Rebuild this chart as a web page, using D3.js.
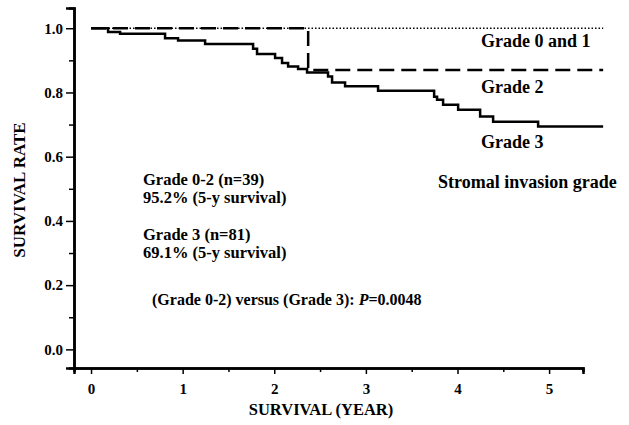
<!DOCTYPE html>
<html>
<head>
<meta charset="utf-8">
<script src="https://cdn.jsdelivr.net/npm/d3@7"></script>
<style>
  body { margin: 0; background: #fff; }
  svg text { font-family: "Liberation Serif", "Times New Roman", serif; font-weight: bold; fill: #000; }
</style>
</head>
<body>
<svg id="chart" width="629" height="425"></svg>
<script>
// Kaplan-Meier curves (time in years, survival rate)
var grade01Times = [0, 5.59];
var grade01Surv  = [1.0, 1.0];

var grade2Times = [0, 2.37, 5.59];
var grade2Surv  = [1.0, 0.87, 0.87];

var grade3Times = [0, 0.186, 0.317, 0.808, 0.95, 1.245, 1.769, 1.812, 2.009, 2.085, 2.151, 2.26, 2.358,
                   2.587, 2.631, 2.773, 3.133, 3.745, 3.777, 3.843, 4.007, 4.247, 4.389, 4.88, 5.59];
var grade3Surv  = [1.0, 0.988, 0.983, 0.969, 0.962, 0.951, 0.936, 0.92, 0.907, 0.892, 0.881, 0.873, 0.862,
                   0.85, 0.831, 0.819, 0.805, 0.787, 0.777, 0.762, 0.746, 0.725, 0.709, 0.694, 0.694];

var xTicks = [0, 1, 2, 3, 4, 5];
var xMinor = [0.5, 1.5, 2.5, 3.5, 4.5];
var yTicks = [0, 0.2, 0.4, 0.6, 0.8, 1.0];
var yMinor = [0.1, 0.3, 0.5, 0.7, 0.9];

var svg = d3.select("#chart");

var x = d3.scaleLinear().domain([-0.186, 5.37]).range([74, 583]);
var y = d3.scaleLinear().domain([-0.058, 1.063]).range([368, 8]);

function pairs(ts, ss) {
    return ts.map(function(t, i){ return [t, ss[i]]; });
}

// axes
var yAxis = d3.axisLeft(y).tickValues(yTicks).tickFormat(d3.format(".1f")).tickSize(8).tickPadding(3);
var gy = svg.append("g").attr("transform", "translate(74,0)").call(yAxis);
gy.append("g").call(d3.axisLeft(y).tickValues(yMinor).tickFormat("").tickSize(5));

var xAxis = d3.axisBottom(x).tickValues(xTicks).tickFormat(d3.format("d")).tickSize(6).tickPadding(9);
var gx = svg.append("g").attr("transform", "translate(0,368)").call(xAxis);
gx.append("g").call(d3.axisBottom(x).tickValues(xMinor).tickFormat("").tickSize(4));

svg.selectAll(".domain").attr("stroke", "#000").attr("stroke-width", 2.5);
svg.selectAll(".tick line").attr("stroke", "#000").attr("stroke-width", 1.5);
svg.selectAll(".tick text").style("font-size", "15px");
// hide the minor-tick axis domains so the main line stays single
gy.select("g").select(".domain").remove();
gx.select("g").select(".domain").remove();

// curves
var line = d3.line()
    .x(function(d){ return x(d[0]); })
    .y(function(d){ return y(d[1]); })
    .curve(d3.curveStepAfter);

svg.append("path")
    .datum(pairs(grade01Times, grade01Surv))
    .attr("d", line)
    .attr("fill", "none").attr("stroke", "#000")
    .attr("stroke-width", 1.5).attr("stroke-dasharray", "1.5,2");

svg.append("path")
    .datum(pairs(grade2Times, grade2Surv))
    .attr("d", line)
    .attr("fill", "none").attr("stroke", "#000")
    .attr("stroke-width", 2.5).attr("stroke-dasharray", "15,7");

svg.append("path")
    .datum(pairs(grade3Times, grade3Surv))
    .attr("d", line)
    .attr("fill", "none").attr("stroke", "#000")
    .attr("stroke-width", 2.5);

// axis titles
svg.append("text")
    .attr("x", 321).attr("y", 415)
    .attr("text-anchor", "middle")
    .style("font-size", "16.5px")
    .text("SURVIVAL (YEAR)");

svg.append("text")
    .attr("transform", "translate(25,190) rotate(-90)")
    .attr("text-anchor", "middle")
    .style("font-size", "17px")
    .text("SURVIVAL RATE");

// legend labels
var labels = [
    {t: "Grade 0 and 1", x: 481, y: 47},
    {t: "Grade 2", x: 481, y: 93},
    {t: "Grade 3", x: 481, y: 148},
    {t: "Stromal invasion grade", x: 438, y: 188}
];
svg.selectAll(".lbl").data(labels).enter().append("text")
    .attr("class", "lbl")
    .attr("x", function(d){ return d.x; })
    .attr("y", function(d){ return d.y; })
    .style("font-size", "18px")
    .text(function(d){ return d.t; });

var notes = [
    {t: "Grade 0-2 (n=39)", y: 185},
    {t: "95.2% (5-y survival)", y: 203},
    {t: "Grade 3 (n=81)", y: 240},
    {t: "69.1% (5-y survival)", y: 258}
];
svg.selectAll(".note").data(notes).enter().append("text")
    .attr("class", "note")
    .attr("x", 143)
    .attr("y", function(d){ return d.y; })
    .style("font-size", "16.5px")
    .text(function(d){ return d.t; });

var pv = svg.append("text").attr("x", 152).attr("y", 305).style("font-size", "16px");
pv.append("tspan").text("(Grade 0-2) versus (Grade 3): ");
pv.append("tspan").style("font-style", "italic").text("P");
pv.append("tspan").text("=0.0048");
</script>
</body>
</html>
